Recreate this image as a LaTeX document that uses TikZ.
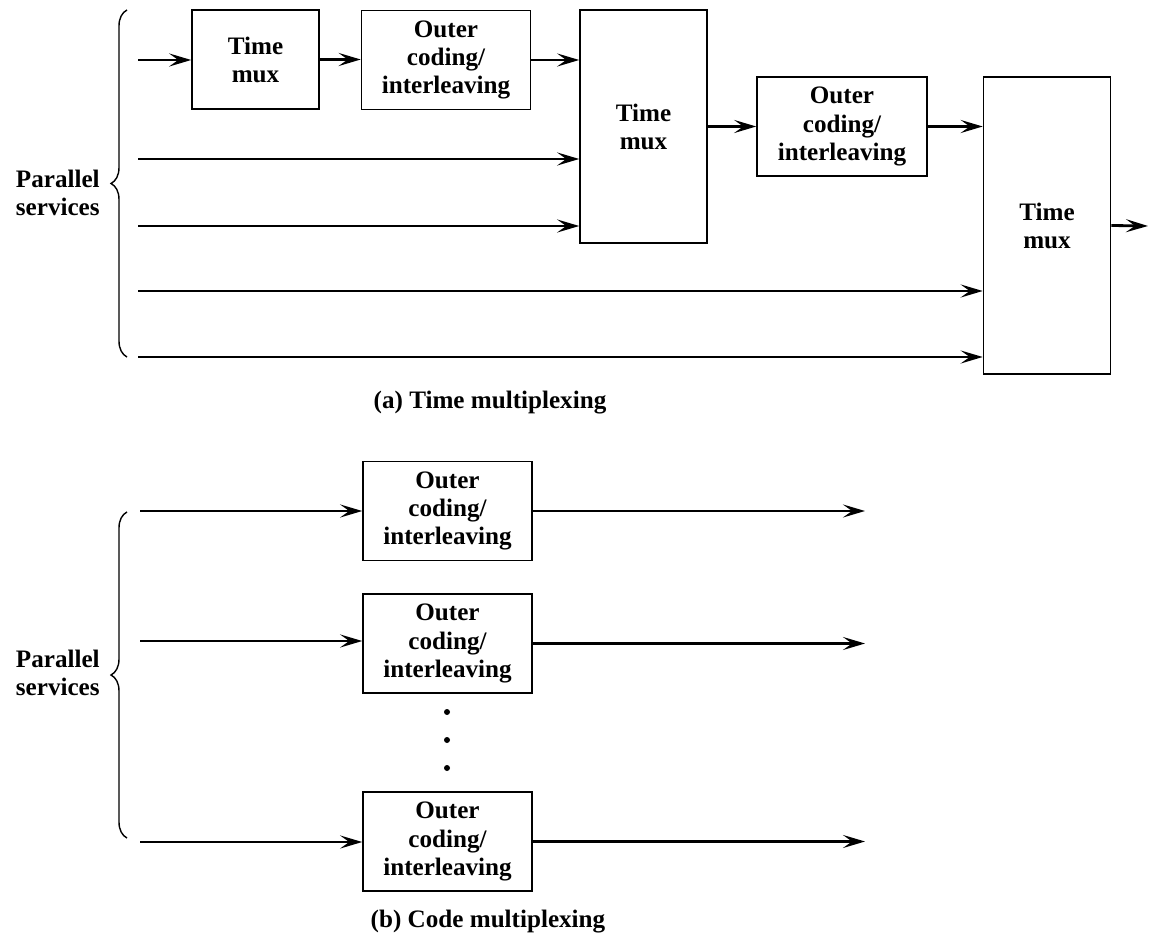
\documentclass[tikz,border=0pt]{standalone}
\usepackage{fontspec}
\setmainfont{Liberation Serif}
\usepackage{tikz}
\usetikzlibrary{arrows.meta, positioning, decorations.pathreplacing, calc}

\begin{document}
\begin{tikzpicture}[x=0.02cm, y=-0.02cm,
          blockNode/.style={rectangle, draw=black, line width=0.9pt, inner sep=0pt, align=center, font=\bfseries\fontsize{14.3}{16}\selectfont},
          muxNode/.style={blockNode, minimum width=2.54cm},
          codeNode/.style={blockNode, minimum width=3.38cm, minimum height=1.98cm},
          sideText/.style={align=center, inner sep=0pt, font=\bfseries\fontsize{14.3}{16}\selectfont},
          flow/.style={-{Stealth[length=4.4mm, width=2.6mm, inset=1.8mm]}, line width=1.6pt},
          braceLine/.style={decorate, decoration={brace, amplitude=0.32cm}, line width=0.8pt}
        ]
          \useasboundingbox (0,0) rectangle (1149,935);

          \node[muxNode, minimum height=1.98cm] (tm1) at (255.5,59.5) {Time\\mux};
          \node[codeNode] (oc1) at (446,60) {Outer\\coding/\\interleaving};
          \node[muxNode, minimum height=4.66cm] (tm2) at (643.5,126.5) {Time\\mux};
          \node[codeNode, minimum width=3.4cm] (oc2) at (842,126.5) {Outer\\coding/\\interleaving};
          \node[muxNode, minimum height=5.94cm] (tm3) at (1047,225.5) {Time\\mux};

          \coordinate (s1) at (138,60);
          \coordinate (s2) at (138,159);
          \coordinate (s3) at (138,226);
          \coordinate (s4) at (138,291);
          \coordinate (s5) at (138,357);
          \coordinate (out) at (1148,226);

          \draw[flow] (s1) -- (s1 -| tm1.west);
          \draw[flow] (tm1.east) -- (tm1.east -| oc1.west);
          \draw[flow] (oc1.east) -- (oc1.east -| tm2.west);
          \draw[flow] (s2) -- (s2 -| tm2.west);
          \draw[flow] (s3) -- (s3 -| tm2.west);
          \draw[flow] (tm2.east) -- (tm2.east -| oc2.west);
          \draw[flow] (oc2.east) -- (oc2.east -| tm3.west);
          \draw[flow] (s4) -- (s4 -| tm3.west);
          \draw[flow] (s5) -- (s5 -| tm3.west);
          \draw[flow] (tm3.east) -- (out);

          \draw[braceLine] (127,357) -- (127,10);
          \node[sideText, anchor=east] (parA) at (100,193) {Parallel\\services};
          \node[sideText] (capA) at (490,403) {(a) Time multiplexing};

          \node[codeNode] (cb1) at (447.5,511) {Outer\\coding/\\interleaving};
          \node[codeNode] (cb2) at (447.5,643.5) {Outer\\coding/\\interleaving};
          \node[codeNode] (cb3) at (447.5,841.5) {Outer\\coding/\\interleaving};

          \coordinate (i1) at (140,511);
          \coordinate (i2) at (140,641);
          \coordinate (i3) at (140,842);
          \coordinate (o1) at (865,511);
          \coordinate (o2) at (865,643.5);
          \coordinate (o3) at (865,841.5);

          \draw[flow] (i1) -- (i1 -| cb1.west);
          \draw[flow] (i2) -- (i2 -| cb2.west);
          \draw[flow] (i3) -- (i3 -| cb3.west);
          \draw[flow] (cb1.east) -- (o1);
          \draw[flow] (cb2.east) -- (o2);
          \draw[flow] (cb3.east) -- (o3);

          \fill (447,712) circle (0.06cm);
          \fill (447,740) circle (0.06cm);
          \fill (447,768) circle (0.06cm);

          \draw[braceLine] (127,838) -- (127,512);
          \node[sideText, anchor=east] (parB) at (100,673) {Parallel\\services};
          \node[sideText] (capB) at (488,922) {(b) Code multiplexing};
        \end{tikzpicture}
\end{document}
